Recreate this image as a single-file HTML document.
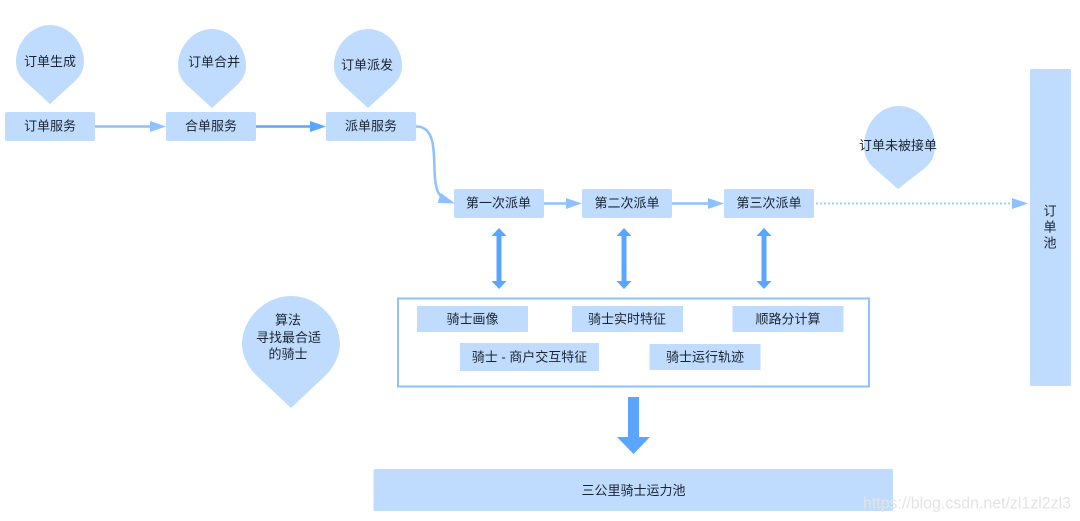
<!DOCTYPE html>
<html lang="zh">
<head>
<meta charset="utf-8">
<title>订单派发流程</title>
<style>
html,body{margin:0;padding:0;background:#fff;width:1080px;height:521px;overflow:hidden}
svg{display:block;filter:blur(.35px)}
text{font-family:"Liberation Sans","Noto Sans CJK SC",sans-serif;font-size:13px;fill:#1a2430;text-anchor:middle;dominant-baseline:central}
.b{fill:#bfdcff}
</style>
</head>
<body>
<svg width="1080" height="521" viewBox="0 0 1080 521" xmlns="http://www.w3.org/2000/svg">
<rect width="1080" height="521" fill="#fff"/>

<!-- pins -->
<path class="b" d="M50 25C69 25 84 43 84 61C84 70 81 76 73 83L50 104L27 83C19 76 16 70 16 61C16 43 31 25 50 25Z"/>
<path class="b" transform="translate(162,4)" d="M50 25C69 25 84 43 84 61C84 70 81 76 73 83L50 104L27 83C19 76 16 70 16 61C16 43 31 25 50 25Z"/>
<path class="b" transform="translate(318,4)" d="M50 25C69 25 84 43 84 61C84 70 81 76 73 83L50 104L27 83C19 76 16 70 16 61C16 43 31 25 50 25Z"/>
<path class="b" d="M899 106C920 106 935 126 935 146C935 155 932 162 925 168L898 189L874 168C867 162 864 155 864 146C864 126 878 106 899 106Z"/>
<path class="b" d="M291 296C318 296 340 320 340 344C340 356 333 368.500 325 376L291 408L257 376C249 368.500 242 356 242 344C242 320 264 296 291 296Z"/>

<!-- top row boxes -->
<rect class="b" x="5" y="112" width="90" height="29" rx="2"/>
<rect class="b" x="166" y="112" width="90" height="29" rx="2"/>
<rect class="b" x="326" y="112" width="90" height="29" rx="2"/>

<!-- dispatch boxes -->
<rect class="b" x="454" y="189" width="90" height="29" rx="2"/>
<rect class="b" x="582" y="189" width="90" height="29" rx="2"/>
<rect class="b" x="724" y="189" width="90" height="29" rx="2"/>

<!-- order pool -->
<rect class="b" x="1030" y="69" width="41" height="317" rx="1"/>

<!-- top row arrows -->
<path d="M95 126.500H152" stroke="#8fc1ff" stroke-width="2.500" fill="none"/>
<path d="M150 121L166 126.500L150 132Z" fill="#8fc1ff"/>
<path d="M256 126.500H312" stroke="#5aa5ff" stroke-width="2.500" fill="none"/>
<path d="M310 121L326 126.500L310 132Z" fill="#5aa5ff"/>

<!-- curve -->
<path d="M416 126.500C438 126 433 160 435 178C436 192 440 197 446 200" stroke="#8fc1ff" stroke-width="2.500" fill="none"/>
<path d="M441 193L455 203.500L437.500 203Z" fill="#8fc1ff"/>

<!-- dispatch arrows -->
<path d="M544 203.500H568" stroke="#8fc1ff" stroke-width="2.500" fill="none"/>
<path d="M566 198L582 203.500L566 209Z" fill="#8fc1ff"/>
<path d="M672 203.500H710" stroke="#8fc1ff" stroke-width="2.500" fill="none"/>
<path d="M708 198L724 203.500L708 209Z" fill="#8fc1ff"/>
<path d="M816 203.500H1013" stroke="#a9cfff" stroke-width="2" stroke-dasharray="2 2" fill="none"/>
<path d="M1012 198L1028 203.500L1012 209Z" fill="#8fc1ff"/>

<!-- double arrows -->
<g fill="#5aa5ff">
<path d="M499 228L506.500 236H501.500V281H506.500L499 289L491.500 281H496.500V236H491.500Z"/>
<path d="M624 228L631.500 236H626.500V281H631.500L624 289L616.500 281H621.500V236H616.500Z"/>
<path d="M764 228L771.500 236H766.500V281H771.500L764 289L756.500 281H761.500V236H756.500Z"/>
</g>

<!-- algorithm container -->
<rect x="398" y="298.500" width="471" height="88" fill="#fff" stroke="#8fc1ff" stroke-width="2"/>
<rect class="b" x="417" y="306" width="111" height="26"/>
<rect class="b" x="572" y="306" width="111" height="26"/>
<rect class="b" x="732.500" y="306" width="111" height="26"/>
<rect class="b" x="460" y="343" width="139" height="28"/>
<rect class="b" x="649.500" y="344" width="111" height="26"/>

<!-- big arrow -->
<path d="M628 397H639V437H650L633.500 454L617 437H628Z" fill="#5aa5ff"/>

<!-- bottom pool -->
<rect class="b" x="373.500" y="469" width="519.500" height="42" rx="2"/>

<!-- labels -->
<text x="50" y="61.500">订单生成</text>
<text x="214" y="62">订单合并</text>
<text x="367" y="65">订单派发</text>
<text x="898" y="145.500">订单未被接单</text>

<text x="50" y="126">订单服务</text>
<text x="211" y="126">合单服务</text>
<text x="371" y="126">派单服务</text>

<text x="498.500" y="203">第一次派单</text>
<text x="627" y="203">第二次派单</text>
<text x="769" y="203">第三次派单</text>

<text x="1050" y="211">订</text>
<text x="1050" y="227">单</text>
<text x="1050" y="243">池</text>

<text x="288" y="320">算法</text>
<text x="288.500" y="337.500">寻找最合适</text>
<text x="288" y="354">的骑士</text>

<text x="472.500" y="319">骑士画像</text>
<text x="627" y="319">骑士实时特征</text>
<text x="788" y="319">顺路分计算</text>
<text x="529.500" y="357">骑士 - 商户交互特征</text>
<text x="705" y="357">骑士运行轨迹</text>
<text x="633.500" y="490.500">三公里骑士运力池</text>

<!-- watermark -->
<text x="967" y="503" textLength="208" lengthAdjust="spacingAndGlyphs" style="font-size:17px;fill:#e4e4e4">https://blog.csdn.net/zl1zl2zl3</text>
</svg>
</body>
</html>
